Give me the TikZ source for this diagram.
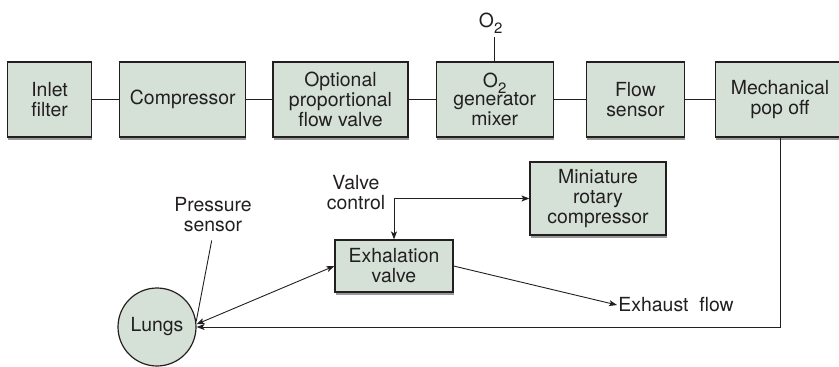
\documentclass[tikz,border=0pt]{standalone}
\usepackage{fontspec}
\setmainfont{TeX Gyre Heros}
\usetikzlibrary{positioning, calc, arrows.meta, shadows}

\definecolor{boxfill}{RGB}{213,225,215}
\definecolor{boxline}{RGB}{35,31,32}
\newcommand{\osubtwo}{\raisebox{-6bp}{\fontsize{15}{15}\selectfont 2}}

\begin{document}
\begin{tikzpicture}[
  x=1bp, y=1bp,
  >={Stealth[length=8bp, width=6bp, inset=2bp]},
  line width=0.9bp, color=boxline,
  font=\fontsize{19.5}{20}\selectfont,
  block/.style = {draw=boxline, line width=1.2bp, fill=boxfill, rectangle, align=center,
                  inner sep=2bp, minimum height=75bp,
                  drop shadow={shadow xshift=0.6bp, shadow yshift=-3bp, fill=black!40, opacity=1}},
  lung/.style  = {draw=boxline, line width=1.2bp, fill=boxfill, circle, inner sep=0pt, minimum size=78bp},
  lbl/.style   = {align=center, inner sep=1bp},
]
  \useasboundingbox (0,0) rectangle (839,366);

  % supply chain
  \node[block, minimum width=84bp, anchor=west]  (inlet) at (7,266.5) {Inlet\\filter};
  \node[block, minimum width=126bp, right=27bp of inlet] (comp) {Compressor};
  \node[block, minimum width=135bp, right=26bp of comp]  (opt)  {Optional\\proportional\\flow valve};
  \node[block, minimum width=117bp, right=27bp of opt]   (mix)  {O\smash{\osubtwo}\\[-2bp]generator\\mixer};
  \node[block, minimum width=98bp,  right=32bp of mix]   (flow) {Flow\\sensor};
  \node[block, minimum width=129bp, right=30bp of flow]  (pop)  {Mechanical\\pop off};

  \foreach \a/\b in {inlet/comp, comp/opt, opt/mix, mix/flow, flow/pop}
    \draw (\a) -- (\b);

  \draw (mix.north) -- ++(0,24) coordinate (o2in);
  \node[lbl, anchor=south, xshift=-4bp, yshift=2bp] (o2lbl) at (o2in) {O\osubtwo};

  % patient side
  \node[lung] (lungs) at (157,39) {Lungs};
  \node[block, minimum width=118bp, minimum height=52bp] (exh)  at (394,100)   {Exhalation\\valve};
  \node[block, minimum width=136bp, minimum height=73bp] (mini) at (598,167.5) {Miniature\\rotary\\compressor};

  \node[lbl] (vctl)  at (356,173) {Valve\\control};
  \node[lbl] (psens) at (213,151) {Pressure\\sensor};
  \node[lbl, anchor=west] (exhaust) at (617,61) {Exhaust\ \ flow};

  \draw[<->] (mini.west) -| (exh.north);
  \draw[<->] (lungs.4) -- (exh.west);
  \draw[->]  (exh.east) -- (exhaust.west);
  \draw[->]  (pop.south) |- (lungs.east);
  \draw[shorten <=7bp] (psens.south) -- (lungs.8);
\end{tikzpicture}
\end{document}
